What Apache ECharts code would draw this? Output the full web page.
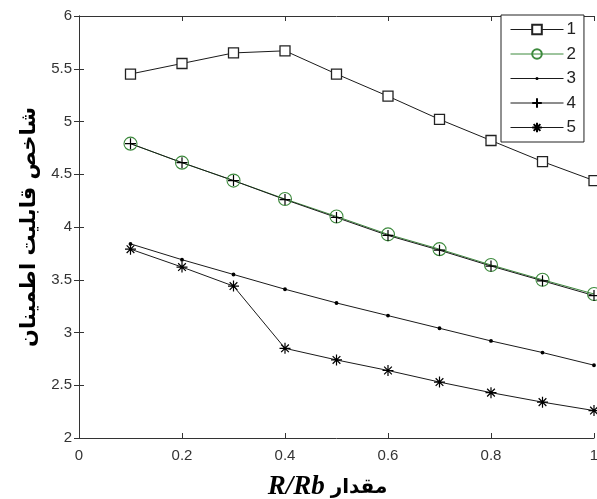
<!DOCTYPE html>
<html>
<head>
<meta charset="utf-8">
<script src="https://cdn.jsdelivr.net/npm/echarts@6/dist/echarts.min.js"></script>
<style>html,body{margin:0;padding:0;background:#fff;}#c{width:597px;height:499px;}</style>
</head>
<body>
<div id="c"></div>
<script>
const xValues = [0.1, 0.2, 0.3, 0.4, 0.5, 0.6, 0.7, 0.8, 0.9, 1.0];
const s1 = [5.45, 5.55, 5.65, 5.67, 5.45, 5.24, 5.02, 4.82, 4.62, 4.44];
const s2 = [4.79, 4.61, 4.44, 4.265, 4.10, 3.93, 3.79, 3.64, 3.50, 3.365];
const s3 = [3.84, 3.69, 3.55, 3.41, 3.28, 3.16, 3.04, 2.92, 2.81, 2.69];
const s4 = [4.79, 4.61, 4.44, 4.26, 4.09, 3.92, 3.78, 3.63, 3.49, 3.35];
const s5 = [3.79, 3.62, 3.44, 2.85, 2.74, 2.64, 2.53, 2.43, 2.34, 2.26];
const seriesNames = ['1', '2', '3', '4', '5'];
const yAxisTitle = 'شاخص قابلیت اطمینان';
const xAxisWord = 'مقدار';
const xAxisSymbol = 'R/Rb';

const pair = arr => xValues.map((x, i) => [x, arr[i]]);
const plusPath = 'path://M0,5L10,5M5,0L5,10';
const starPath = 'path://M0,5L10,5M5,0L5,10M1.5,1.5L8.5,8.5M1.5,8.5L8.5,1.5';
const dotPath = 'path://M0,0L0.01,0M10,10L9.99,10M5,3.4A1.6,1.6,0,1,1,5,6.6A1.6,1.6,0,1,1,5,3.4Z';
const lineCol = '#1a1a1a';
const green = '#3d8a3d';

const axisCommon = {
  type: 'value',
  axisLine: { show: true, lineStyle: { color: '#333', width: 1 } },
  axisTick: { show: true, inside: true, length: 5, lineStyle: { color: '#333' } },
  splitLine: { show: false }
};

const chart = echarts.init(document.getElementById('c'), null, { renderer: 'canvas' });
chart.setOption({
  animation: false,
  backgroundColor: '#fff',
  grid: { left: 79, right: 3, top: 16, bottom: 61, containLabel: false, outerBoundsMode: 'none' },
  xAxis: [
    Object.assign({}, axisCommon, {
      min: 0, max: 1, interval: 0.2, position: 'bottom',
      axisLabel: { color: '#333', fontSize: 15, fontFamily: 'Liberation Sans', margin: 10,
        formatter: v => (v === 0 ? '0' : v === 1 ? '1' : String(+v.toFixed(1))) },
      name: '{a|' + xAxisSymbol + '}{s| }{b|' + xAxisWord + '}',
      nameLocation: 'middle', nameGap: 36,
      nameTextStyle: {
        padding: [0, 18, 0, 0],
        rich: {
          a: { fontFamily: 'Liberation Serif', fontStyle: 'italic', fontWeight: 'bold', fontSize: 27, color: '#000' },
          s: { width: 6, fontSize: 10 },
          b: { fontFamily: 'DejaVu Sans', fontWeight: 'bold', fontSize: 20, color: '#000' }
        }
      }
    }),
    Object.assign({}, axisCommon, {
      min: 0, max: 1, interval: 0.2, position: 'top',
      axisLabel: { show: false }
    })
  ],
  yAxis: [
    Object.assign({}, axisCommon, {
      min: 2, max: 6, interval: 0.5, position: 'left',
      axisLabel: { color: '#333', fontSize: 15, fontFamily: 'Liberation Sans', margin: 7,
        formatter: v => String(v) },
      name: yAxisTitle, nameLocation: 'middle', nameGap: 34, nameRotate: 90,
      nameTextStyle: { fontFamily: 'DejaVu Sans', fontWeight: 'bold', fontSize: 21, color: '#000' }
    }),
    Object.assign({}, axisCommon, {
      min: 2, max: 6, interval: 0.5, position: 'right',
      axisLabel: { show: false }
    })
  ],
  legend: {
    left: 501, top: 15,
    orient: 'vertical',
    backgroundColor: '#fff', borderColor: '#222', borderWidth: 1,
    padding: [6, 8, 6, 9],
    itemWidth: 53, itemHeight: 12, itemGap: 7.5,
    lineStyle: { width: 1 },
    textStyle: { fontSize: 17, lineHeight: 12, fontFamily: 'Liberation Sans', color: '#222', padding: [0, 0, 0, -2] },
    data: seriesNames
  },
  series: [
    { name: seriesNames[0], type: 'line', data: pair(s1), symbol: 'rect', symbolSize: 10,
      lineStyle: { color: lineCol, width: 1 },
      itemStyle: { color: '#fff', borderColor: '#222', borderWidth: 1.3 } },
    { name: seriesNames[1], type: 'line', data: pair(s2), symbol: 'circle', symbolSize: 13,
      lineStyle: { color: green, width: 1 },
      itemStyle: { color: 'rgba(255,255,255,0)', borderColor: green, borderWidth: 1.1 } },
    { name: seriesNames[2], type: 'line', data: pair(s3), symbol: dotPath, symbolSize: 12,
      lineStyle: { color: lineCol, width: 1 },
      itemStyle: { color: '#000', borderWidth: 0 } },
    { name: seriesNames[3], type: 'line', data: pair(s4), symbol: plusPath, symbolSize: 11,
      lineStyle: { color: lineCol, width: 1 },
      itemStyle: { color: 'rgba(0,0,0,0)', borderColor: '#000', borderWidth: 1.2 } },
    { name: seriesNames[4], type: 'line', data: pair(s5), symbol: starPath, symbolSize: 11,
      lineStyle: { color: lineCol, width: 1 },
      itemStyle: { color: 'rgba(0,0,0,0)', borderColor: '#000', borderWidth: 1.2 } }
  ]
});
</script>
</body>
</html>
